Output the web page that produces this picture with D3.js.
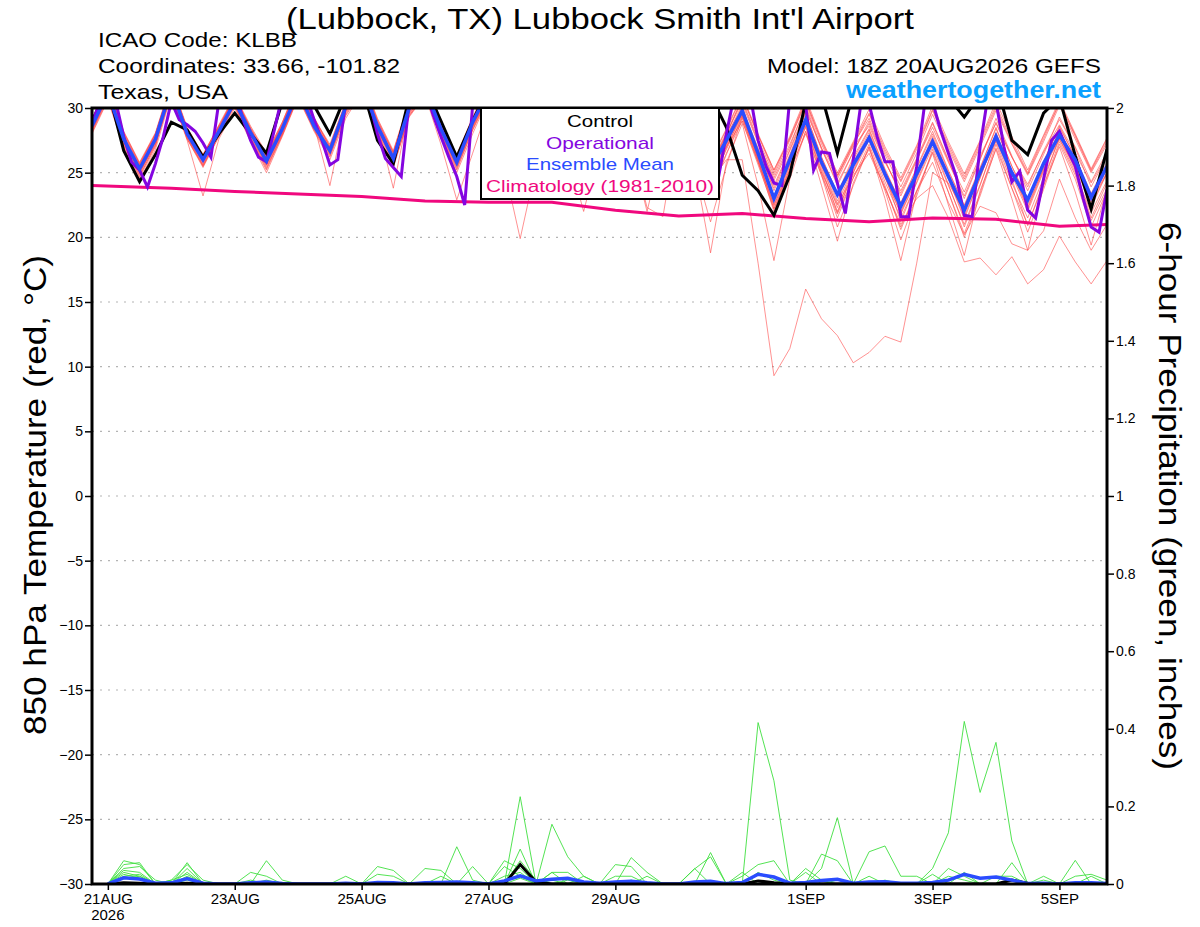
<!DOCTYPE html>
<html>
<head>
<meta charset="utf-8">
<script src="https://cdn.jsdelivr.net/npm/d3@7"></script>
<style>
  body { margin: 0; background: #fff; }
  svg { display: block; font-family: "Liberation Sans", Arial, sans-serif; }
</style>
</head>
<body>
<svg id="chart" width="1200" height="927"></svg>
<script>
// ---- data (6-hourly steps from 20AUG2026 18Z, step 0..64) ----
const dateTicks = [1, 9, 17, 25, 33, 45, 53, 61];
const dateLabels = ["21AUG", "23AUG", "25AUG", "27AUG", "29AUG", "1SEP", "3SEP", "5SEP"];
const tempTicks = [-30, -25, -20, -15, -10, -5, 0, 5, 10, 15, 20, 25, 30];
const precipTicks = [0, 0.2, 0.4, 0.6, 0.8, 1, 1.2, 1.4, 1.6, 1.8, 2];
const precipTickLabels = ["0", "0.2", "0.4", "0.6", "0.8", "1", "1.2", "1.4", "1.6", "1.8", "2"];

// ensemble members, 850 hPa temperature (C)
const members = [
  [28.9, 31.5,27.9,25.0,27.3, 31.0,27.6,25.5,28.0, 30.9,28.4,26.2,28.8, 31.6,29.0,26.4,29.7, 32.2,29.0,26.5,30.3, 31.2,28.0,25.4,28.4, 31.0,27.9,25.2,28.0, 30.6,27.5,25.0,27.9, 30.3,27.2,24.6,27.4, 30.1,27.0,24.8,27.2, 29.5,26.8,24.0,26.8, 29.8,26.9,24.5,27.0, 28.6,25.8,23.6,26.1, 28.9,26.0,23.5,26.3, 28.8,26.2,24.1,26.6, 28.7,26.5,24.2,26.3],
  [28.2, 30.8,27.1,24.6,27.0, 31.9,28.4,26.3,28.6, 30.1,27.7,25.3,28.0, 31.0,28.5,26.9,30.2, 31.5,28.2,25.8,29.6, 31.9,28.9,26.3,29.2, 31.6,28.6,26.1,29.0, 31.4,28.5,26.2,28.9, 31.2,28.3,25.9,28.6, 31.0,28.1,25.7,27.9, 30.8,27.9,25.2,27.6, 30.5,27.5,24.8,27.2, 29.2,26.4,23.9,26.5, 29.5,26.8,24.3,27.0, 29.8,27.2,24.8,27.4, 30.2,27.6,25.0,27.2],
  [28.5, 31.0,27.5,25.2,27.5, 31.3,27.8,25.8,28.1, 30.6,28.0,25.6,28.2, 31.2,28.6,26.5,29.8, 31.6,28.4,25.9,29.8, 31.4,28.2,25.5,28.6, 31.2,28.0,25.5,28.4, 30.8,27.6,25.2,28.0, 30.4,27.3,24.8,27.6, 30.0,27.0,24.3,26.0, 26.0,18.0,9.3,11.4, 16.0,13.7,12.4,10.3, 11.1,12.35,11.9,18.0, 25.0,24.2,22.0,24.8, 27.5,25.0,22.5,25.3, 27.6,25.4,22.8,25.0],
  [28.0, 30.6,27.0,24.4,26.8, 31.0,27.5,23.2,27.6, 30.0,27.4,25.0,27.8, 30.8,28.2,26.0,29.2, 31.2,27.9,25.4,29.4, 31.0,27.8,25.0,28.0, 30.8,27.5,24.8,27.6, 30.5,27.0,23.8,27.2, 30.0,26.5,23.0,26.5, 29.5,25.5,18.8,25.8, 28.8,24.0,18.2,24.5, 28.2,24.0,19.7,24.2, 27.0,23.0,18.2,23.5, 26.5,22.5,18.6,23.6, 26.8,23.0,19.0,24.0, 27.0,23.5,19.4,23.8],
  [28.8, 31.4,27.8,25.5,27.8, 31.7,28.2,26.2,28.4, 30.8,28.3,26.1,28.6, 31.5,29.0,26.9,30.1, 32.0,28.8,26.3,30.2, 31.7,28.6,26.0,29.0, 31.5,28.4,25.9,28.8, 31.2,28.2,25.8,28.5, 31.0,28.0,25.5,28.2, 30.8,27.8,25.4,27.8, 29.5,26.2,22.8,25.8, 28.5,25.0,22.5,24.8, 26.5,23.8,21.0,23.0, 24.0,21.5,18.1,18.4, 17.1,18.5,16.4,17.5, 20.1,18.1,16.4,18.2],
  [28.3, 30.9,27.3,25.0,27.2, 31.2,27.7,25.6,27.9, 30.3,27.9,25.7,28.1, 31.1,28.7,26.6,29.9, 31.7,28.5,26.0,29.9, 31.3,28.1,25.6,28.6, 31.1,28.0,25.4,28.3, 30.7,27.7,25.3,28.1, 30.5,27.5,25.0,27.7, 30.2,27.3,24.9,27.0, 29.0,25.8,22.5,25.2, 28.0,24.8,21.8,24.6, 26.8,23.8,20.8,23.6, 25.8,22.7,20.2,22.4, 21.9,19.5,19.0,20.5, 24.5,21.5,19.0,21.0],
  [28.6, 31.1,27.7,25.4,27.7, 31.6,28.1,26.1,28.3, 30.5,28.0,25.8,28.3, 31.3,28.9,26.8,30.3, 31.9,28.7,26.2,30.1, 31.6,28.5,25.9,28.9, 31.4,28.3,25.8,28.6, 31.1,28.1,25.6,28.4, 30.9,27.9,25.4,28.1, 30.7,27.7,25.2,27.7, 30.3,27.3,24.6,27.2, 30.0,26.8,24.2,26.6, 28.8,25.9,23.4,26.0, 28.5,25.8,23.2,26.1, 28.9,26.2,23.9,26.7, 29.1,27.0,24.3,26.6],
  [28.4, 31.3,27.4,24.9,27.4, 31.4,27.9,25.7,28.0, 30.4,27.9,25.7,28.3, 31.4,28.7,24.0,29.9, 31.7,28.5,25.9,29.7, 31.3,28.2,25.6,28.7, 30.8,27.6,24.8,27.8, 30.2,26.8,24.0,27.2, 30.0,26.6,23.8,26.9, 29.8,26.4,23.5,26.5, 29.0,25.6,22.2,25.3, 28.7,25.2,22.0,25.0, 27.5,24.3,21.5,24.2, 27.0,24.0,21.0,24.1, 27.4,24.2,21.5,24.6, 27.6,25.0,21.9,24.4],
  [28.7, 31.6,28.0,25.6,28.0, 31.8,28.3,26.3,28.5, 30.9,28.5,26.4,28.9, 31.8,29.2,27.2,30.5, 32.2,29.0,26.6,30.4, 31.8,28.7,26.2,29.1, 31.6,28.6,26.2,29.0, 31.4,28.4,26.0,28.8, 31.2,28.2,25.9,28.5, 31.0,28.0,25.7,28.1, 30.6,27.6,24.8,27.5, 30.4,27.2,24.7,27.1, 29.5,26.6,24.3,26.8, 29.8,27.0,24.5,27.2, 30.0,27.3,24.9,27.6, 30.4,27.8,25.1,27.4],
  [28.1, 30.7,27.2,24.8,27.1, 31.1,27.6,25.4,27.8, 30.2,27.6,25.4,27.9, 30.9,28.3,26.2,29.5, 31.4,28.1,25.6,29.4, 31.1,27.9,25.3,28.3, 30.9,27.7,25.1,28.0, 30.5,27.3,24.8,27.6, 30.2,27.0,24.5,27.3, 29.9,26.7,24.2,26.8, 29.2,25.9,22.6,25.6, 28.9,25.6,22.3,25.2, 27.8,24.6,21.8,24.5, 27.6,24.5,21.4,24.6, 27.9,24.8,22.0,25.1, 28.0,25.6,22.3,25.0],
  [28.9, 31.8,28.2,25.8,28.1, 32.0,28.5,26.4,28.7, 31.0,28.6,26.5,28.9, 31.9,29.3,27.0,30.4, 32.4,29.2,26.7,30.6, 32.0,28.9,26.4,29.3, 31.8,28.8,26.4,29.2, 31.6,28.7,26.3,29.0, 31.4,28.5,26.1,28.7, 31.3,28.4,26.0,28.4, 31.0,28.0,25.2,27.8, 30.8,27.6,25.0,27.4, 29.9,27.0,24.6,27.1, 30.2,27.4,24.9,27.5, 30.5,27.8,25.2,27.9, 30.6,28.0,25.3,27.7],
  [28.3, 31.0,27.5,25.1,27.6, 31.2,27.9,25.9,28.1, 30.3,27.8,25.5,28.0, 31.0,28.4,26.4,29.6, 31.5,28.3,25.8,29.5, 31.2,28.0,25.5,28.5, 30.9,27.6,24.9,27.9, 30.3,26.9,23.9,27.1, 30.1,26.7,23.6,26.8, 29.9,26.5,23.4,26.4, 29.4,26.0,22.4,25.5, 28.9,25.4,21.9,25.0, 27.9,24.8,21.2,24.3, 27.3,24.1,20.8,24.0, 27.6,24.5,20.9,24.3, 27.8,25.2,21.5,24.2],
  [28.5, 31.2,27.6,25.3,27.6, 31.5,28.0,25.9,28.2, 30.6,28.2,26.0,28.5, 31.4,28.8,26.6,30.0, 31.8,28.7,23.8,30.0, 31.5,28.4,25.8,28.8, 31.0,27.4,24.2,27.5, 30.4,26.5,22.0,26.8, 30.1,26.9,22.0,27.2, 30.0,26.8,23.7,26.9, 29.6,26.3,23.2,26.3, 29.3,25.9,22.8,25.8, 28.1,25.0,22.0,24.9, 27.8,24.9,21.8,24.9, 28.1,25.1,22.3,25.4, 28.3,25.8,22.7,25.3],
  [28.6, 31.3,27.8,25.2,27.5, 31.6,28.1,26.0,28.3, 30.7,28.2,26.1,28.5, 31.5,28.8,26.7,30.1, 31.9,28.6,26.0,29.6, 31.0,27.2,22.9,26.5, 30.2,25.4,19.9,25.5, 30.4,26.8,23.5,27.0, 30.5,27.2,24.5,27.4, 30.3,27.0,24.3,27.1, 29.9,26.6,23.8,26.7, 29.6,26.2,23.4,26.2, 28.4,25.3,22.6,25.4, 28.2,25.2,22.4,25.3, 28.5,25.5,22.8,25.8, 28.6,26.2,23.0,25.6],
  [28.8, 31.5,28.1,25.7,28.0, 31.8,28.4,26.4,28.6, 30.8,28.4,26.2,28.7, 31.7,29.1,27.1,30.3, 32.1,28.9,26.5,30.3, 31.8,28.7,26.2,29.0, 31.6,28.5,26.1,28.9, 31.3,28.3,25.9,28.6, 31.1,28.1,25.7,28.4, 31.0,27.9,25.5,28.0, 30.5,27.4,24.4,27.0, 30.2,26.9,24.0,26.6, 29.0,26.0,23.2,25.9, 28.8,25.9,23.0,26.0, 29.2,26.3,23.6,26.4, 29.3,26.9,23.9,26.3],
  [28.4, 31.1,27.5,25.0,27.4, 31.4,27.8,25.6,28.0, 30.4,27.7,25.6,28.1, 31.2,28.6,26.5,29.7, 31.6,28.4,25.9,29.8, 31.3,28.2,25.7,28.6, 31.1,28.0,25.6,28.4, 30.8,27.8,25.3,28.0, 30.5,27.2,22.3,21.6, 29.0,25.5,21.2,25.5, 29.3,25.8,22.0,25.2, 28.6,25.0,21.5,24.6, 27.2,24.0,20.6,23.6, 26.6,23.5,20.0,23.2, 26.9,23.8,20.4,23.7, 27.2,24.5,20.8,23.6],
  [28.7, 31.4,27.9,25.6,27.9, 31.7,28.2,26.2,28.5, 30.8,28.3,26.3,28.6, 31.6,29.0,26.9,30.2, 32.0,28.8,26.4,30.2, 31.7,28.6,26.1,29.0, 31.5,28.4,26.0,28.8, 31.2,28.2,25.8,28.5, 31.0,28.0,25.6,28.3, 30.8,27.8,25.4,27.9, 30.0,26.9,23.6,26.4, 29.6,26.2,23.4,26.0, 28.3,25.2,22.7,25.3, 28.0,25.1,22.5,25.4, 28.4,25.5,23.0,25.9, 28.5,26.2,23.4,25.8],
  [28.2, 30.9,27.3,24.7,27.2, 31.2,27.7,25.5,27.8, 30.2,27.5,25.2,27.9, 30.9,28.3,26.3,29.4, 31.3,28.0,25.5,29.3, 31.0,27.8,25.2,28.3, 30.8,27.6,25.0,28.0, 30.5,27.4,24.9,27.7, 30.2,27.1,24.6,27.4, 30.0,26.9,24.4,27.0, 29.4,26.1,22.9,25.9, 29.0,25.6,22.6,25.4, 27.9,24.7,21.9,24.6, 27.6,24.6,21.6,24.6, 28.0,25.0,22.2,25.2, 28.2,25.7,22.5,25.0],
  [28.6, 31.2,27.7,25.4,27.7, 31.5,28.0,26.0,28.3, 30.6,28.1,25.9,28.4, 31.4,28.8,26.7,30.0, 31.8,28.6,26.1,30.0, 31.5,28.4,25.8,28.8, 31.3,28.2,25.7,28.5, 31.0,28.0,25.5,28.3, 30.8,27.8,25.3,28.0, 30.6,27.6,25.1,27.2, 30.2,26.0,22.2,25.0, 28.2,24.8,20.8,24.0, 27.0,23.6,19.8,23.2, 26.8,23.5,20.3,23.4, 27.2,23.8,21.0,24.0, 27.4,24.8,21.3,23.8],
  [28.9, 31.7,28.1,25.7,28.0, 31.9,28.4,26.3,28.6, 30.9,28.4,26.3,28.8, 31.8,29.2,27.0,30.4, 32.3,29.1,26.6,30.5, 31.9,28.8,26.3,29.2, 31.7,28.7,26.3,29.1, 31.5,28.6,26.2,28.9, 31.3,28.4,26.0,28.6, 31.2,28.3,25.9,28.3, 30.9,27.9,25.0,27.7, 30.6,27.4,24.8,27.3, 29.6,26.8,24.4,27.0, 29.9,27.2,24.7,27.4, 30.2,27.5,25.0,27.8, 30.4,27.9,25.2,27.6]
];

const control = [29.0, 31.5,26.7,24.3,26.4, 28.9,28.3,26.2,28.0, 29.6,28.0,26.5,30.5, 31.5,30.2,28.0,31.0, 31.8,27.5,25.7,30.8, 31.8,29.0,26.2,29.0, 31.5,28.8,26.3,28.9, 31.4,28.6,26.2,28.7, 31.2,28.4,26.0,28.5, 31.4,31.0,31.0,28.5, 24.8,23.6,21.7,24.8, 30.5,31.0,26.5,31.2, 32.0,31.5,30.5,31.5, 32.0,30.8,29.3,31.0, 32.0,27.5,26.4,29.6, 30.8,26.3,22.2,26.8];

const ensMean = [28.6, 31.2,27.6,25.3,27.6, 31.5,28.0,26.0,28.2, 30.5,28.1,25.9,28.4, 31.3,28.6,26.7,30.1, 31.8,28.6,26.1,30.0, 31.5,28.4,25.8,28.9, 31.3,28.3,25.8,28.6, 31.1,28.1,25.6,28.4, 30.8,27.9,25.4,28.0, 30.6,27.7,25.3,27.5, 29.8,26.5,23.0,26.0, 29.1,25.8,23.3,25.6, 27.7,24.9,22.4,24.9, 27.4,24.7,22.1,25.0, 27.8,25.0,22.9,25.7, 27.9,26.0,23.1,25.5];

// operational run, 3-hourly (step 0, 0.5, 1, ... 64)
const operational = [
  28.8,30.5, 31.5,30.5, 27.8,25.8, 25.2,23.9, 25.7,27.8, 30.5,29.1, 28.7,28.2, 27.3,26.2,
  30.5,31.5, 31.5,29.2, 27.5,26.2, 25.85,28.3, 31.0,32.0, 32.0,31.0, 29.1,27.5, 25.6,26.0,
  30.5,31.5, 31.8,30.5, 28.0,26.1, 25.4,24.7, 30.5,31.5, 31.5,29.5, 27.8,26.2, 24.7,22.5,
  30.2,31.5, 32.0,30.5, 28.5,27.0, 25.8,26.5, 28.8,30.8, 31.5,30.0, 28.4,27.0, 25.8,26.5,
  28.5,30.5, 31.0,29.8, 28.0,26.8, 25.5,26.2, 28.2,30.2, 30.8,29.5, 27.0,25.5, 23.5,24.6,
  28.0,31.0, 32.0,31.0, 27.5,25.5, 24.2,24.0, 30.8,31.0, 30.2,25.2, 26.6,26.5, 24.2,21.85,
  26.0,30.5, 30.3,27.8, 25.85,25.85, 21.6,21.6, 25.5,30.3, 30.5,28.3, 26.5,24.7, 21.7,21.6,
  27.0,31.0, 30.5,27.0, 24.3,25.1, 22.1,21.5, 24.5,27.5, 28.2,26.8, 25.5,23.0, 20.8,20.4,
  23.7
];

// climatology (1981-2010), daily points
const climSteps = [0, 5, 9, 13, 17, 21, 25, 29, 33, 37, 41, 45, 49, 53, 57, 61, 64];
const climValues = [24.0, 23.8, 23.55, 23.35, 23.15, 22.8, 22.72, 22.72, 22.1, 21.65, 21.85, 21.45, 21.2, 21.5, 21.4, 20.85, 21.0];

// 6-hour precipitation (inches), steps 1..64
const precipMembers = [
  [0,.06,.05,0,.01,.05,.01,0, 0,.03,.02,0,0,0,0,0, 0,.045,.035,0,0,0,0,0, 0,0,.225,0,.03,0,0,0, 0,.068,.03,0,0,0,0,0, 0,.416,.266,.01,0,0,0,0, .02,0,0,0,0,0,.03,0, 0,0,0,0,0,.061,0,0],
  [0,.05,.055,0,0,.055,0,0, 0,0,.06,.01,0,0,0,0, 0,0,0,0,0,0,.096,.01, 0,0,.09,0,.154,.07,.02,0, 0,0,0,0,0,0,.081,0, 0,0,0,0,0,.04,.171,0, 0,0,0,0,0,.04,.02,0, 0,.055,0,0,0,0,0,0],
  [0,.04,.045,.01,0,.04,0,0, 0,0,0,0,0,0,0,.02, 0,0,0,0,.04,.035,0,0, 0,.06,.04,0,0,0,0,0, .05,.045,0,0,0,.039,.07,0, .02,.05,.06,0,0,0,0,0, 0,0,0,0,.04,.132,.419,.236, .365,.111,0,.02,0,0,0,0],
  [0,.035,.03,0,0,.03,0,0, 0,0,0,0,0,0,0,0, 0,.025,.02,0,0,0,0,0, 0,.045,.02,0,.03,.03,0,0, 0,0,0,0,0,0,0,0, .03,0,0,0,0,.077,.06,0, .083,.098,.02,.02,0,0,0,0, 0,0,0,0,0,0,.02,0],
  [0,.03,.02,0,.01,.025,0,0, 0,.01,0,0,0,0,0,0, 0,0,0,0,0,.02,0,0, 0,0,.06,.01,0,0,0,0, .02,.02,0,0,0,.04,0,0, 0,0,0,0,.03,0,0,0, 0,0,0,0,.025,0,0,0, 0,0,0,.01,0,.02,.025,.01],
  [0,.02,.025,0,0,.02,0,0, 0,0,0,0,0,0,0,0, 0,0,0,0,0,0,0,.045, 0,.02,.03,0,0,0,.02,0, 0,0,.02,0,0,0,0,0, 0,0,0,0,.04,.01,0,0, 0,0,0,0,0,0,0,0, .02,.02,0,0,0,0,0,0],
  [0,.025,.015,0,0,.015,0,0, 0,0,0,0,0,0,0,0, 0,0,0,0,0,0,0,0, 0,0,.015,0,0,.01,0,0, 0,.01,0,0,0,0,0,0, 0,.03,.01,0,0,0,0,0, 0,0,0,0,0,.02,.01,0, 0,0,0,0,0,0,0,0],
  [0,.015,.02,0,0,.01,0,0, 0,0,.01,0,0,0,0,0, 0,0,0,0,0,0,0,0, 0,0,0,0,.01,0,0,0, 0,0,0,0,0,0,0,0, 0,0,0,0,0,0,.01,0, 0,.01,0,0,0,0,0,0, 0,0,0,0,0,0,0,0]
];
const precipMean = [0,.016,.013,.002,.003,.014,.002,0, 0,.003,.005,.001,0,0,0,.002, 0,.004,.003,0,.003,.004,.005,.003, 0,.008,.021,.008,.012,.015,.005,.002, .005,.007,.003,0,0,.005,.007,.001, .004,.025,.018,.002,.004,.009,.012,.002, .005,.006,.002,.002,.004,.01,.025,.015, .018,.01,.001,.002,0,.003,.003,.001];
const precipControl = [0,.003,.002,0,0,.002,0,0, 0,0,0,0,0,0,0,0, 0,0,0,0,0,0,0,0, 0,0,.05,.005,0,0,0,0, 0,0,0,0,0,0,0,0, 0,.008,.003,0,0,0,0,0, 0,0,0,0,0,0,0,0, 0,.01,.002,0,0,0,0,0];

// ---- chart ----
const svg = d3.select("#chart");
const plot = { left: 92, right: 1107, top: 108, bottom: 884 };

const x = d3.scaleLinear().domain([0, 64]).range([plot.left, plot.right]);
const yT = d3.scaleLinear().domain([-30, 30]).range([plot.bottom, plot.top]);
const yP = d3.scaleLinear().domain([0, 2]).range([plot.bottom, plot.top]);

svg.append("defs").append("clipPath").attr("id", "plotClip")
  .append("rect")
  .attr("x", plot.left).attr("y", plot.top)
  .attr("width", plot.right - plot.left).attr("height", plot.bottom - plot.top);

// dotted grid on temperature ticks
svg.append("g").selectAll("line")
  .data(tempTicks.filter(d => d > -30 && d < 30))
  .join("line")
  .attr("x1", plot.left).attr("x2", plot.right)
  .attr("y1", d => yT(d)).attr("y2", d => yT(d))
  .attr("stroke", "#b4b4b4").attr("stroke-width", 1.2)
  .attr("stroke-dasharray", "2,6");

const lines = svg.append("g").attr("clip-path", "url(#plotClip)");

const tLine = d3.line().x((d, i) => x(i)).y(d => yT(d));
const pLine = d3.line().x((d, i) => x(i + 1)).y(d => yP(d));
const opLine = d3.line().x((d, i) => x(i / 2)).y(d => yT(d));
const climLine = d3.line().x(d => x(d[0])).y(d => yT(d[1]));

// green members
lines.selectAll(".pm").data(precipMembers).join("path")
  .attr("class", "pm").attr("d", pLine)
  .attr("fill", "none").attr("stroke", "#40e040").attr("stroke-width", 0.9);

// red members
lines.selectAll(".tm").data(members).join("path")
  .attr("class", "tm").attr("d", tLine)
  .attr("fill", "none").attr("stroke", "#ff4a4a").attr("stroke-opacity", 0.8)
  .attr("stroke-width", 0.75);

// climatology
lines.append("path")
  .attr("d", climLine(climSteps.map((s, i) => [s, climValues[i]])))
  .attr("fill", "none").attr("stroke", "#f0087e").attr("stroke-width", 3);

// control
lines.append("path").attr("d", tLine(control))
  .attr("fill", "none").attr("stroke", "#000").attr("stroke-width", 3);
lines.append("path").attr("d", pLine(precipControl))
  .attr("fill", "none").attr("stroke", "#000").attr("stroke-width", 3);

// operational
lines.append("path").attr("d", opLine(operational))
  .attr("fill", "none").attr("stroke", "#8405e0").attr("stroke-width", 3);

// ensemble mean
lines.append("path").attr("d", tLine(ensMean))
  .attr("fill", "none").attr("stroke", "#2a4cff").attr("stroke-width", 3.5);
lines.append("path").attr("d", pLine(precipMean))
  .attr("fill", "none").attr("stroke", "#2a4cff").attr("stroke-width", 3.5);

// axes
const leftAxis = svg.append("g")
  .attr("transform", `translate(${plot.left},0)`)
  .call(d3.axisLeft(yT).tickValues(tempTicks).tickSize(7).tickPadding(2));
const rightAxis = svg.append("g")
  .attr("transform", `translate(${plot.right},0)`)
  .call(d3.axisRight(yP).tickValues(precipTicks).tickSize(7).tickPadding(2)
    .tickFormat((d, i) => precipTickLabels[i]));
const bottomAxis = svg.append("g")
  .attr("transform", `translate(0,${plot.bottom})`)
  .call(d3.axisBottom(x).tickValues(dateTicks).tickSize(6).tickPadding(3)
    .tickFormat((d, i) => dateLabels[i]));

[leftAxis, rightAxis, bottomAxis].forEach(a => {
  a.select(".domain").remove();
  a.selectAll("text").attr("font-size", 14).attr("fill", "#000")
    .attr("font-family", "'Liberation Sans', Arial, sans-serif");
  a.selectAll("line").attr("stroke", "#000").attr("stroke-width", 1.5);
});
bottomAxis.selectAll("text").attr("font-size", 15);

svg.append("text").attr("x", x(1)).attr("y", 920)
  .attr("text-anchor", "middle").attr("font-size", 15).text("2026");

// frame
svg.append("rect")
  .attr("x", plot.left).attr("y", plot.top)
  .attr("width", plot.right - plot.left).attr("height", plot.bottom - plot.top)
  .attr("fill", "none").attr("stroke", "#000").attr("stroke-width", 3);

// legend
const legend = svg.append("g");
legend.append("rect").attr("x", 481).attr("y", plot.top).attr("width", 238).attr("height", 91)
  .attr("fill", "#fff").attr("stroke", "#000").attr("stroke-width", 2);
const legendItems = [
  ["Control", "#000", 66],
  ["Operational", "#8405e0", 108],
  ["Ensemble Mean", "#2a4cff", 148],
  ["Climatology (1981-2010)", "#f0087e", 228]
];
legend.selectAll("text").data(legendItems).join("text")
  .attr("x", 600).attr("y", (d, i) => 127 + i * 21.6)
  .attr("text-anchor", "middle").attr("font-size", 17)
  .attr("textLength", d => d[2]).attr("lengthAdjust", "spacingAndGlyphs")
  .attr("fill", d => d[1]).text(d => d[0]);

// titles
svg.append("text").attr("x", 600).attr("y", 29).attr("text-anchor", "middle")
  .attr("font-size", 29).attr("textLength", 628).attr("lengthAdjust", "spacingAndGlyphs")
  .text("(Lubbock, TX) Lubbock Smith Int'l Airport");

const info = [["ICAO Code: KLBB", 199], ["Coordinates: 33.66, -101.82", 302], ["Texas, USA", 130]];
svg.selectAll(".info").data(info).join("text").attr("class", "info")
  .attr("x", 98).attr("y", (d, i) => 47 + i * 26)
  .attr("font-size", 21).attr("textLength", d => d[1]).attr("lengthAdjust", "spacingAndGlyphs")
  .text(d => d[0]);

svg.append("text").attr("x", 1101).attr("y", 73).attr("text-anchor", "end")
  .attr("font-size", 21).attr("textLength", 334).attr("lengthAdjust", "spacingAndGlyphs")
  .text("Model: 18Z 20AUG2026 GEFS");
svg.append("text").attr("x", 1101).attr("y", 98).attr("text-anchor", "end")
  .attr("font-size", 24).attr("font-weight", "bold").attr("fill", "#0aa0ff")
  .attr("textLength", 255).attr("lengthAdjust", "spacingAndGlyphs")
  .text("weathertogether.net");

svg.append("text")
  .attr("transform", "translate(46,495) rotate(-90)")
  .attr("text-anchor", "middle").attr("font-size", 31)
  .attr("textLength", 480).attr("lengthAdjust", "spacingAndGlyphs")
  .text("850 hPa Temperature (red, \u00B0C)");
svg.append("text")
  .attr("transform", "translate(1159,496) rotate(90)")
  .attr("text-anchor", "middle").attr("font-size", 31)
  .attr("textLength", 548).attr("lengthAdjust", "spacingAndGlyphs")
  .text("6-hour Precipitation (green, inches)");
</script>
</body>
</html>
